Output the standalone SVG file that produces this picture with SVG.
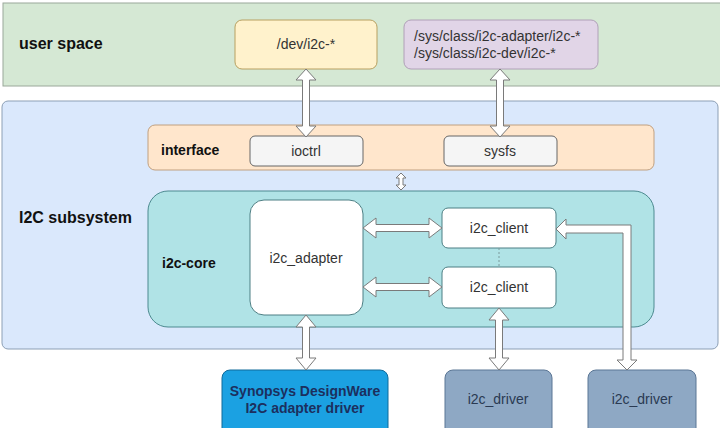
<svg xmlns="http://www.w3.org/2000/svg" width="720" height="428" viewBox="0 0 720 428">
<style>
text{font-family:"Liberation Sans",Arial,sans-serif;font-size:14px;fill:#333}
.b{font-weight:bold;fill:#111}
.c{text-anchor:middle}
.arrow{fill:#fff;stroke:#7a7a7a;stroke-width:1;stroke-linejoin:miter}
.inner{fill:#f5f5f5;stroke:#666;stroke-width:1}
.white{fill:#fff;stroke:#4d7f84;stroke-width:1}
.drv{fill:#8ea8c4;stroke:#5b7695;stroke-width:1}
</style>
<rect x="0" y="0" width="720" height="428" fill="#fff"/>
<g id="userspace">
<rect x="3" y="3" width="720" height="83" fill="#d5e8d4" stroke="#9aa89a" stroke-width="1"/>
<text class="b" x="19" y="49" style="font-size:16px">user space</text>
</g>
<g id="subsystem">
<rect x="2" y="101" width="716" height="248" rx="6" fill="#dae8fc" stroke="#8c9fb5" stroke-width="1"/>
<text class="b" x="19" y="223" style="font-size:16px">I2C subsystem</text>
</g>
<g id="devnode">
<rect x="235" y="20" width="142" height="49" rx="7" fill="#fff2cc" stroke="#b8a060" stroke-width="1"/>
<text class="c" x="306" y="49">/dev/i2c-*</text>
</g>
<g id="sysnode">
<rect x="404" y="20" width="194" height="49" rx="7" fill="#e1d5e7" stroke="#b0a0b8" stroke-width="1"/>
<text x="414" y="41">/sys/class/i2c-adapter/i2c-*</text>
<text x="414" y="58">/sys/class/i2c-dev/i2c-*</text>
</g>
<g id="interface">
<rect x="148" y="125" width="506" height="45" rx="7" fill="#ffe6cc" stroke="#c0a080" stroke-width="1"/>
<text class="b" x="161" y="155">interface</text>
</g>
<g id="ioctrl">
<rect class="inner" x="250" y="136" width="113" height="30" rx="5"/>
<text class="c" x="306" y="156">ioctrl</text>
</g>
<g id="sysfs">
<rect class="inner" x="444" y="136" width="113" height="30" rx="5"/>
<text class="c" x="500" y="156">sysfs</text>
</g>
<g id="core">
<rect x="148" y="191" width="506" height="136" rx="20" fill="#b0e3e6" stroke="#4d8a90" stroke-width="1"/>
<text class="b" x="162" y="268">i2c-core</text>
</g>
<g id="adapter">
<rect class="white" x="250" y="200" width="113" height="115" rx="14"/>
<text class="c" x="306" y="263">i2c_adapter</text>
</g>
<g id="client1">
<rect class="white" x="442" y="208" width="114" height="40" rx="6"/>
<text class="c" x="499" y="233">i2c_client</text>
</g>
<g id="client2">
<rect class="white" x="442" y="267" width="114" height="41" rx="6"/>
<text class="c" x="499" y="292">i2c_client</text>
</g>
<g id="synopsys">
<rect x="222" y="370" width="166" height="70" rx="8" fill="#1ba1e2" stroke="#106a9a" stroke-width="1"/>
<text class="b c" x="305" y="396" style="fill:#1c2f5e">Synopsys DesignWare</text>
<text class="b c" x="305" y="413" style="fill:#1c2f5e">I2C adapter driver</text>
</g>
<g id="driver1">
<rect class="drv" x="445" y="370" width="107" height="70" rx="8"/>
<text class="c" x="498" y="404" style="fill:#2a3a52">i2c_driver</text>
</g>
<g id="driver2">
<rect class="drv" x="588" y="370" width="108" height="70" rx="8"/>
<text class="c" x="642" y="404" style="fill:#2a3a52">i2c_driver</text>
</g>
<g id="connectors">
<line x1="499" y1="248" x2="499" y2="267" stroke="#7a9a9c" stroke-width="1" stroke-dasharray="2,2"/>
<polygon class="arrow" points="306,69 316,80 309.5,80 309.5,126 316,126 306,137 296,126 302.5,126 302.5,80 296,80"/>
<polygon class="arrow" points="500,69 510,80 503.5,80 503.5,126 510,126 500,137 490,126 496.5,126 496.5,80 490,80"/>
<polygon class="arrow" points="401,173 406,178 403,178 403,185 406,185 401,190 396,185 399,185 399,178 396,178"/>
<polygon class="arrow" points="363,228 376,218 376,224.5 429,224.5 429,218 442,228 429,238 429,231.5 376,231.5 376,238"/>
<polygon class="arrow" points="363,287 376,277 376,283.5 429,283.5 429,277 442,287 429,297 429,290.5 376,290.5 376,297"/>
<polygon class="arrow" points="306,315 316,327 309.5,327 309.5,358 316,358 306,370 296,358 302.5,358 302.5,327 296,327"/>
<polygon class="arrow" points="499,308 509,320 502.5,320 502.5,358 509,358 499,370 489,358 495.5,358 495.5,320 489,320"/>
<polygon class="arrow" points="556,229 566,219 566,225 631,225 631,360 637,360 627,370 617,360 623,360 623,233 566,233 566,239"/>
</g>
</svg>
